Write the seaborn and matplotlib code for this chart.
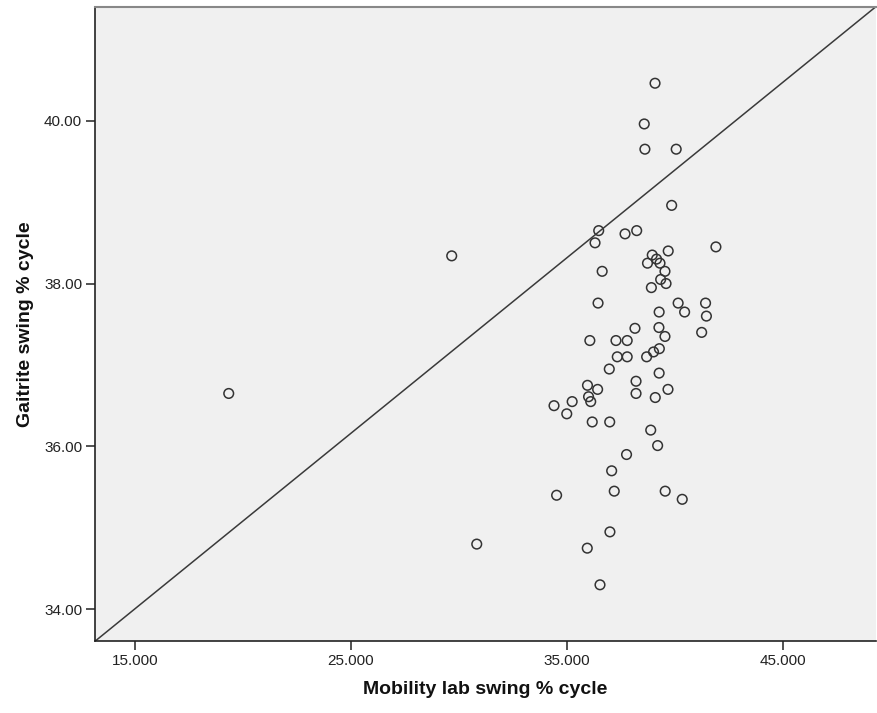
import pandas as pd
import matplotlib
matplotlib.use("Agg")
import matplotlib.pyplot as plt
from matplotlib.ticker import FormatStrFormatter
import seaborn as sns

# values
mobility_lab = [
    39.09, 38.59, 38.62, 40.07, 39.86, 36.48, 36.31, 37.70, 38.24, 41.91,
    39.70, 38.96, 39.16, 38.74, 39.32, 39.55, 36.64, 39.35, 39.60, 38.92,
    36.45, 40.16, 41.43, 39.28, 40.46, 41.47, 38.16, 39.27, 41.25, 39.55,
    36.07, 37.28, 37.80, 37.34, 37.80, 38.70, 39.02, 39.29, 36.97, 39.28,
    38.21, 35.96, 36.43, 39.69, 38.21, 36.01, 36.11, 39.10, 35.25, 34.41,
    35.00, 36.18, 36.99, 38.89, 39.21, 37.77, 37.08, 34.53, 37.20, 39.56,
    40.35, 37.00, 35.95, 36.54, 30.83, 29.67, 19.34,
]
gaitrite = [
    40.46, 39.96, 39.65, 39.65, 38.96, 38.65, 38.50, 38.61, 38.65, 38.45,
    38.40, 38.35, 38.30, 38.25, 38.25, 38.15, 38.15, 38.05, 38.00, 37.95,
    37.76, 37.76, 37.76, 37.65, 37.65, 37.60, 37.45, 37.46, 37.40, 37.35,
    37.30, 37.30, 37.30, 37.10, 37.10, 37.10, 37.16, 37.20, 36.95, 36.90,
    36.80, 36.75, 36.70, 36.70, 36.65, 36.61, 36.55, 36.60, 36.55, 36.50,
    36.40, 36.30, 36.30, 36.20, 36.01, 35.90, 35.70, 35.40, 35.45, 35.45,
    35.35, 34.95, 34.75, 34.30, 34.80, 38.34, 36.65,
]
x_ticks = [15, 25, 35, 45]
y_ticks = [34, 36, 38, 40]

df = pd.DataFrame({"mobility": mobility_lab, "gaitrite": gaitrite})

sns.set_style("white")
plt.rcParams["font.family"] = ["Liberation Sans", "DejaVu Sans"]

fig = plt.figure(figsize=(8.77, 7.13), dpi=100)
ax = fig.add_axes([0.1087, 0.101, 0.89, 0.8896])
ax.set_facecolor("#f0f0f0")

sns.scatterplot(data=df, x="mobility", y="gaitrite", ax=ax,
                marker="o", s=48, facecolor="none", edgecolor="#333333",
                linewidth=1.1, legend=False)

# diagonal reference line, corner to corner
ax.plot([0, 1], [0, 1], transform=ax.transAxes, color="#3a3a3a", lw=1.1)

ax.set_xlim(13.16, 49.32)
ax.set_ylim(33.61, 41.40)
ax.set_xticks(x_ticks)
ax.set_yticks(y_ticks)
ax.xaxis.set_major_formatter(FormatStrFormatter("%.3f"))
ax.yaxis.set_major_formatter(FormatStrFormatter("%.2f"))
ax.tick_params(axis="both", direction="out", length=6.5, width=1.2,
               color="#333333", labelsize=11, labelcolor="#222222", pad=3,
               bottom=True, left=True)

for side in ["left", "bottom"]:
    ax.spines[side].set_color("#222222")
    ax.spines[side].set_linewidth(1.2)
ax.spines["top"].set_color("#888888")
ax.spines["top"].set_linewidth(1.5)
ax.spines["right"].set_visible(False)

ax.set_xlabel("Mobility lab swing % cycle", fontsize=14, fontweight="bold",
              color="#111111", labelpad=9)
ax.set_ylabel("Gaitrite swing % cycle", fontsize=14, fontweight="bold",
              color="#111111", labelpad=7)

fig.savefig("out.png", dpi=100, facecolor="white")
